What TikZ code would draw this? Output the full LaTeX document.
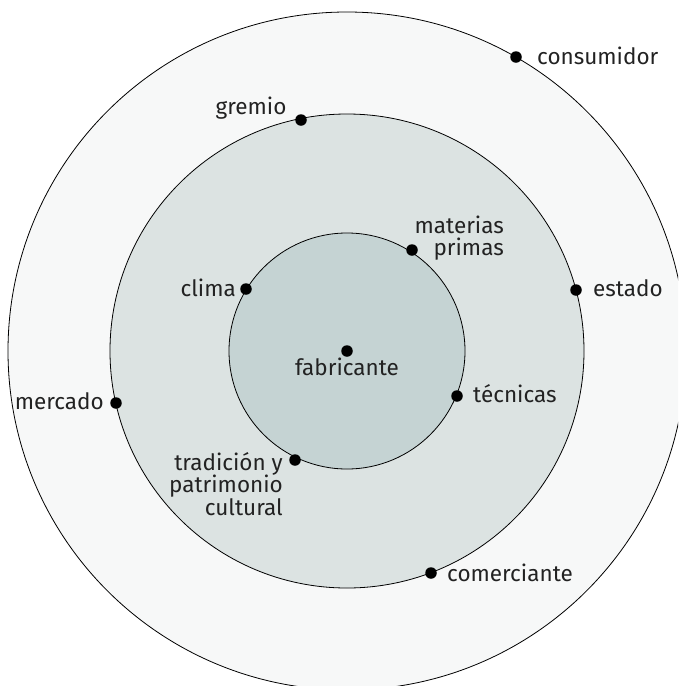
\documentclass[tikz,border=0pt]{standalone}
\usepackage{fontspec}
\setmainfont{Fira Sans}
\definecolor{ringouter}{HTML}{F7F8F8}
\definecolor{ringmid}{HTML}{DCE3E2}
\definecolor{ringinner}{HTML}{C5D3D3}
\definecolor{lbltext}{HTML}{222222}
\tikzset{
  ring/.style={draw=black, line width=0.8pt},
  dot/.style={circle, fill=black, inner sep=0pt, minimum size=11.5pt},
  lbl/.style={inner sep=0pt, text=lbltext, font=\fontsize{22.5}{22.5}\selectfont}
}
\begin{document}
\begin{tikzpicture}[x=1pt,y=1pt,yscale=-1,xscale=1]
\useasboundingbox (0,0) rectangle (678,686);
\clip (0,0) rectangle (678,686);
% rings
\draw [ring, fill=ringouter] (347,351) circle (339);
\draw [ring, fill=ringmid] (347,351) circle (237);
\draw [ring, fill=ringinner] (347,351) circle (118);
% points on the rings
\node [dot] (fabricante) at (347,351) {};
\node [dot] (consumidor) at (516,57) {};
\node [dot] (gremio) at (301,120) {};
\node [dot] (estado) at (576,290) {};
\node [dot] (mercado) at (116,403) {};
\node [dot] (comerciante) at (431,573) {};
\node [dot] (materias) at (412,250) {};
\node [dot] (clima) at (246,289) {};
\node [dot] (tecnicas) at (457,396) {};
\node [dot] (tradicion) at (295,460) {};
% labels
\node [lbl, anchor=base] (fabricantelbl) at (347,375) {fabricante};
\node [lbl, anchor=base west] (consumidorlbl) at (537,64) {consumidor};
\node [lbl, anchor=base] (gremiolbl) at (251,114) {gremio};
\node [lbl, anchor=base west] (estadolbl) at (593,296) {estado};
\node [lbl, anchor=base east] (mercadolbl) at (104,409) {mercado};
\node [lbl, anchor=base west] (comerciantelbl) at (447,581) {comerciante};
\node [lbl, anchor=east, align=right] (materiaslbl) at (504,238) {materias\\primas};
\node [lbl, anchor=base east] (climalbl) at (236,296) {clima};
\node [lbl, anchor=base west] (tecnicaslbl) at (473,402) {técnicas};
\node [lbl, anchor=east, align=right] (tradicionlbl) at (283,484) {tradición y\\patrimonio\\cultural};
\end{tikzpicture}
\end{document}
